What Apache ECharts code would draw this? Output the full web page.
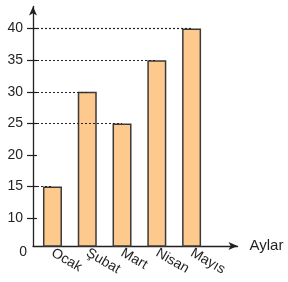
<!DOCTYPE html>
<html>
<head>
<meta charset="utf-8">
<title>Aylar</title>
<script src="https://cdn.jsdelivr.net/npm/echarts@6/dist/echarts.min.js"></script>
<style>
  html, body { margin: 0; padding: 0; background: #fff; }
</style>
</head>
<body>
	<div id="main" style="width: 288px; height: 282px;"></div>
	<script type="text/javascript">
		// data
		var months = ['Ocak', 'Şubat', 'Mart', 'Nisan', 'Mayıs'];
		var values = [15, 30, 25, 35, 40];
		var yTicks = [10, 15, 20, 25, 30, 35, 40];
		var yBase = 5.6; // the axis is broken below 10, baseline is labelled 0

		var xMin = 0.44, xMax = 6.32;
		var ink = '#231f20';

		var barData = [];
		var guides = [];
		for (var i = 0; i < values.length; i++) {
			barData.push([i + 1, values[i]]);
			guides.push([{ coord: [xMin, values[i]] }, { coord: [i + 1, values[i]] }]);
		}

		var myChart = echarts.init(document.getElementById('main'));
		myChart.setOption({
			animation: false,
			grid: { left: 33, right: 50.5, top: 6.5, bottom: 36 },
			xAxis: {
				type: 'value',
				min: xMin,
				max: xMax,
				name: 'Aylar',
				nameLocation: 'end',
				nameGap: 12,
				nameTextStyle: { color: ink, fontSize: 15, fontFamily: 'Liberation Sans', verticalAlign: 'middle' },
				splitLine: { show: false },
				axisTick: { show: false },
				axisLine: {
					lineStyle: { color: ink, width: 1.3 },
					symbol: ['none', 'arrow'],
					symbolSize: [6, 9]
				},
				axisLabel: {
					customValues: [1, 2, 3, 4, 5],
					formatter: function (v) { return months[Math.round(v) - 1]; },
					rotate: -30,
					margin: 6,
					color: ink,
					fontSize: 14,
					fontFamily: 'Liberation Sans'
				}
			},
			yAxis: [{
				type: 'value',
				min: yBase,
				max: 43.5,
				splitLine: { show: false },
				axisLine: {
					lineStyle: { color: ink, width: 1.3 },
					symbol: ['none', 'arrow'],
					symbolSize: [6, 9]
				},
				axisTick: {
					customValues: yTicks,
					length: 6,
					lineStyle: { color: ink, width: 1.2 }
				},
				axisLabel: {
					customValues: [yBase].concat(yTicks),
					formatter: function (v) { return v === yBase ? '{z|0}' : v; },
					margin: 10,
					color: ink,
					fontSize: 14,
					fontFamily: 'Liberation Sans',
					rich: { z: { fontSize: 14, color: ink, fontFamily: 'Liberation Sans', padding: [12, -4, 0, 0] } }
				}
			}, {
				type: 'value',
				min: yBase,
				max: 43.5,
				position: 'left',
				splitLine: { show: false },
				axisLine: { show: false },
				axisLabel: { show: false },
				axisTick: {
					show: true,
					inside: true,
					customValues: yTicks,
					length: 4,
					lineStyle: { color: ink, width: 1.2 }
				}
			}],
			series: [{
				name: 'guides',
				type: 'line',
				data: [],
				z: 1,
				markLine: {
					silent: true,
					symbol: 'none',
					label: { show: false },
					lineStyle: { color: '#222', width: 1.2, type: [2, 2] },
					data: guides
				}
			}, {
				name: 'values',
				type: 'bar',
				z: 3,
				barWidth: 19,
				itemStyle: { color: '#fdc98c', borderColor: '#3a3a3a', borderWidth: 1.5 },
				data: barData
			}]
		});
	</script>
</body>
</html>
